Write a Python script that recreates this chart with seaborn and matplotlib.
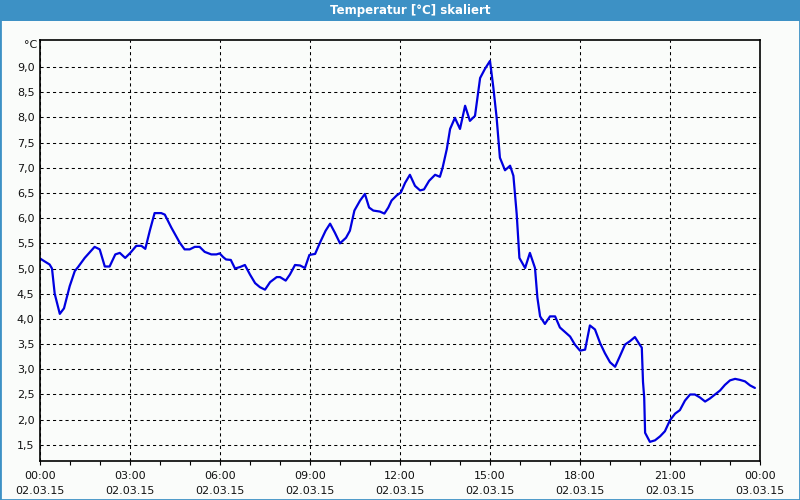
import matplotlib
matplotlib.use("Agg")
import matplotlib.pyplot as plt
import seaborn as sns
import pandas as pd
from matplotlib.patches import Rectangle
from matplotlib.ticker import MultipleLocator

# ---- data (hours since 02.03.15 00:00, temperature in °C) ----
hours = [0.00, 0.13, 0.32, 0.40, 0.49, 0.66, 0.80, 0.99, 1.16, 1.27, 1.49, 1.82, 1.99,
         2.16, 2.32, 2.51, 2.66, 2.84, 3.01, 3.21, 3.38, 3.51, 3.66, 3.82, 4.04, 4.16,
         4.38, 4.66, 4.82, 4.99, 5.16, 5.32, 5.49, 5.71, 5.88, 5.99, 6.10, 6.20, 6.36,
         6.50, 6.67, 6.83, 7.00, 7.17, 7.33, 7.50, 7.67, 7.89, 8.00, 8.19, 8.33, 8.50,
         8.67, 8.83, 8.98, 9.17, 9.33, 9.52, 9.67, 9.83, 10.00, 10.20, 10.33, 10.48,
         10.67, 10.83, 10.97, 11.11, 11.33, 11.48, 11.61, 11.72, 11.89, 12.03, 12.17,
         12.33, 12.50, 12.67, 12.80, 12.97, 13.17, 13.33, 13.42, 13.56, 13.67, 13.83,
         14.00, 14.17, 14.33, 14.50, 14.67, 14.83, 15.00, 15.11, 15.22, 15.33, 15.50,
         15.67, 15.78, 15.89, 15.98, 16.17, 16.33, 16.50, 16.58, 16.67, 16.83, 17.00,
         17.17, 17.33, 17.50, 17.67, 17.83, 18.00, 18.17, 18.33, 18.50, 18.67, 18.83,
         19.00, 19.17, 19.33, 19.50, 19.67, 19.83, 20.00, 20.06, 20.10, 20.14, 20.17,
         20.33, 20.50, 20.67, 20.83, 21.00, 21.17, 21.33, 21.50, 21.67, 21.83, 22.00,
         22.17, 22.33, 22.50, 22.67, 22.83, 23.00, 23.17, 23.33, 23.50, 23.67, 23.83]
temps = [5.20, 5.15, 5.08, 5.00, 4.50, 4.10, 4.21, 4.65, 4.95, 5.03, 5.21, 5.43, 5.38,
         5.04, 5.04, 5.28, 5.31, 5.21, 5.31, 5.45, 5.45, 5.39, 5.75, 6.10, 6.10, 6.07,
         5.81, 5.51, 5.38, 5.38, 5.43, 5.43, 5.33, 5.28, 5.28, 5.30, 5.23, 5.18, 5.17,
         5.00, 5.03, 5.07, 4.88, 4.71, 4.63, 4.58, 4.73, 4.83, 4.83, 4.76, 4.88, 5.07,
         5.06, 5.01, 5.27, 5.29, 5.51, 5.75, 5.89, 5.71, 5.50, 5.61, 5.75, 6.15,
         6.35, 6.48, 6.21, 6.15, 6.13, 6.09, 6.21, 6.35, 6.45, 6.51, 6.70,
         6.86, 6.64, 6.55, 6.57, 6.74, 6.86, 6.82, 7.00, 7.37, 7.77, 7.99,
         7.77, 8.23, 7.93, 8.03, 8.78, 8.96, 9.12, 8.60, 8.00, 7.20, 6.95,
         7.04, 6.84, 6.08, 5.21, 5.01, 5.31, 5.01, 4.42, 4.05, 3.90, 4.05,
         4.05, 3.83, 3.74, 3.65, 3.49, 3.37, 3.39, 3.87, 3.79, 3.52, 3.32,
         3.14, 3.05, 3.26, 3.49, 3.56, 3.64, 3.48, 3.43, 2.75, 2.44, 1.74,
         1.56, 1.59, 1.67, 1.77, 1.99, 2.12, 2.19, 2.38, 2.50, 2.50, 2.44,
         2.36, 2.42, 2.50, 2.58, 2.69, 2.78, 2.81, 2.79, 2.76, 2.68, 2.63]

x_major = [0, 3, 6, 9, 12, 15, 18, 21, 24]
x_labels = ["00:00\n02.03.15", "03:00\n02.03.15", "06:00\n02.03.15", "09:00\n02.03.15",
            "12:00\n02.03.15", "15:00\n02.03.15", "18:00\n02.03.15", "21:00\n02.03.15",
            "00:00\n03.03.15"]
y_ticks = [1.5, 2.0, 2.5, 3.0, 3.5, 4.0, 4.5, 5.0, 5.5, 6.0, 6.5, 7.0, 7.5, 8.0, 8.5, 9.0]
y_labels = ["1,5", "2,0", "2,5", "3,0", "3,5", "4,0", "4,5", "5,0", "5,5", "6,0",
            "6,5", "7,0", "7,5", "8,0", "8,5", "9,0"]
title = "Temperatur [°C] skaliert"
unit = "°C"

sns.set_style("white")
plt.rcParams["font.family"] = ["DejaVu Sans"]

BG = "#fafcfa"
BAR = "#3d91c5"

fig = plt.figure(figsize=(8, 5), dpi=100, facecolor=BG)
ax = fig.add_axes([40 / 800, 39 / 500, 720 / 800, 421 / 500])
ax.set_facecolor(BG)

df = pd.DataFrame({"h": hours, "t": temps})
sns.lineplot(data=df, x="h", y="t", ax=ax, color="#0000e0", linewidth=1.6)

ax.set_xlim(0, 24)
ax.set_ylim(1.18, 9.535)
ax.set_xlabel("")
ax.set_ylabel("")

ax.set_xticks(x_major)
ax.set_xticklabels(x_labels, fontsize=8, color="#111111", linespacing=1.6)
ax.xaxis.set_minor_locator(MultipleLocator(1))
ax.tick_params(axis="x", which="both", direction="out", length=3, width=0.8,
               color="black", pad=4, bottom=True)
ax.set_yticks(y_ticks)
ax.set_yticklabels(y_labels, fontsize=8, color="#111111")
ax.tick_params(axis="y", length=0, pad=4)

ax.grid(True, which="major", axis="both", color="black",
        linestyle=(0, (3, 3)), linewidth=0.75)
for s in ax.spines.values():
    s.set_visible(True)
    s.set_color("black")
    s.set_linewidth(1.2)

# °C unit label at top of y axis
fig.text(37 / 800, 1 - 45 / 500, unit, ha="right", va="center", fontsize=8,
         color="#111111")

# title bar
fig.patches.append(Rectangle((0, 1 - 21 / 500), 1, 21 / 500, transform=fig.transFigure,
                             facecolor=BAR, edgecolor="none", zorder=0))
fig.text(410 / 800, 1 - 10.5 / 500, title, ha="center", va="center", fontsize=8.5,
         fontweight="bold", color="white")
# border
fig.patches.append(Rectangle((0, 0), 1, 1, transform=fig.transFigure,
                             facecolor="none", edgecolor=BAR, linewidth=2.0, zorder=5))

fig.savefig("out.png", dpi=100, facecolor=BG)
